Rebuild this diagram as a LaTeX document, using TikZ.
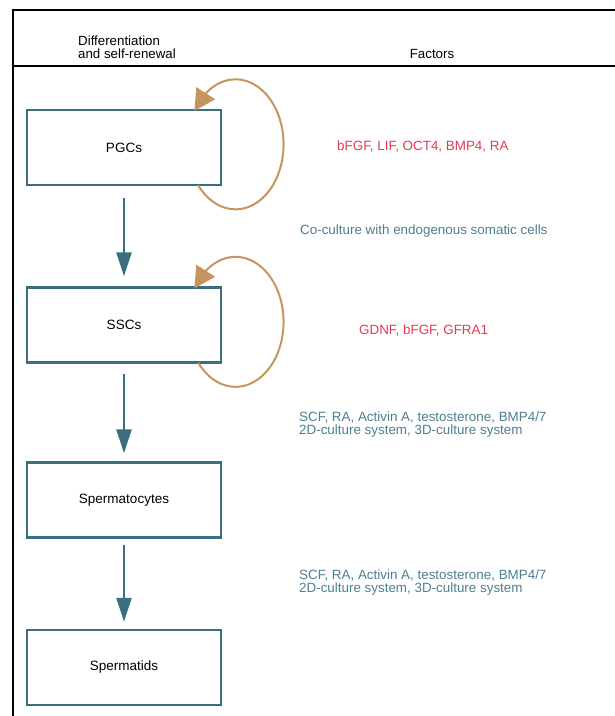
\documentclass[tikz,border=0pt]{standalone}
\usepackage{fontspec}
\setmainfont{Liberation Sans}
\usetikzlibrary{arrows.meta,bending}
\definecolor{boxc}{HTML}{3B6E7E}
\definecolor{loopc}{HTML}{C6955F}
\definecolor{redc}{HTML}{E63A4F}
\definecolor{tealtext}{HTML}{4D7E8E}
\tikzset{
  frame/.style={line width=2pt, black},
  cell/.style={draw=boxc, line width=2.5pt, minimum width=194pt, minimum height=75pt, inner sep=0pt, font=\fontsize{13.5}{15}\selectfont},
  flow/.style={draw=boxc, line width=2.5pt, -{Triangle[length=24pt,width=15pt]}},
  selfloop/.style={draw=loopc, line width=2pt, -{Triangle[length=21pt,width=22pt,flex]}},
  header/.style={inner sep=0pt, font=\fontsize{13.3}{13.5}\selectfont},
  redtxt/.style={inner sep=0pt, anchor=base west, text=redc, font=\fontsize{13.4}{14}\selectfont},
  tealtxt/.style={inner sep=0pt, anchor=base west, text=tealtext, font=\fontsize{13.4}{14}\selectfont}
}
\begin{document}
\begin{tikzpicture}[x=1pt,y=-1pt]
\useasboundingbox (0,0) rectangle (615,716);
% frame
\draw[frame] (13,716) -- (13,10) -- (615,10);
\draw[frame] (13,66) -- (615,66);
% headers
\node[header, anchor=base west] (h1) at (78,45) {Differentiation};
\node[header, anchor=base west] (h2) at (78,58) {and self-renewal};
\node[header, anchor=base] (h3) at (432,58) {Factors};
% cells
\node[cell] (pgc) at (124,147.5) {PGCs};
\node[cell] (ssc) at (124,325) {SSCs};
\node[cell] (spc) at (124,500) {Spermatocytes};
\node[cell] (spt) at (124,667.5) {Spermatids};
% flow arrows
\draw[flow, shorten <=12pt, shorten >=10pt] (pgc.south) -- (ssc.north);
\draw[flow, shorten <=10pt, shorten >=8pt] (ssc.south) -- (spc.north);
\draw[flow, shorten <=6pt, shorten >=7pt] (spc.south) -- (spt.north);
% self-renewal loops
\coordinate (l1) at ([xshift=-24pt,yshift=1pt]pgc.south east);
\draw[selfloop] (l1) arc[start angle=141, end angle=-149, x radius=48, y radius=65];
\coordinate (l2) at ([xshift=-24pt,yshift=1pt]ssc.south east);
\draw[selfloop] (l2) arc[start angle=141, end angle=-149, x radius=48, y radius=65];
% factors
\node[redtxt] (f1) at (337,150) {bFGF, LIF, OCT4, BMP4, RA};
\node[tealtxt] (f2) at (300,234.5) {Co-culture with endogenous somatic cells};
\node[redtxt] (f3) at (359,334.5) {GDNF, bFGF, GFRA1};
\node[tealtxt] (f4) at (299,421.5) {SCF, RA, Activin A, testosterone, BMP4/7};
\node[tealtxt] (f5) at (299,434) {2D-culture system, 3D-culture system};
\node[tealtxt] (f6) at (299,579.5) {SCF, RA, Activin A, testosterone, BMP4/7};
\node[tealtxt] (f7) at (299,592) {2D-culture system, 3D-culture system};
\end{tikzpicture}
\end{document}
